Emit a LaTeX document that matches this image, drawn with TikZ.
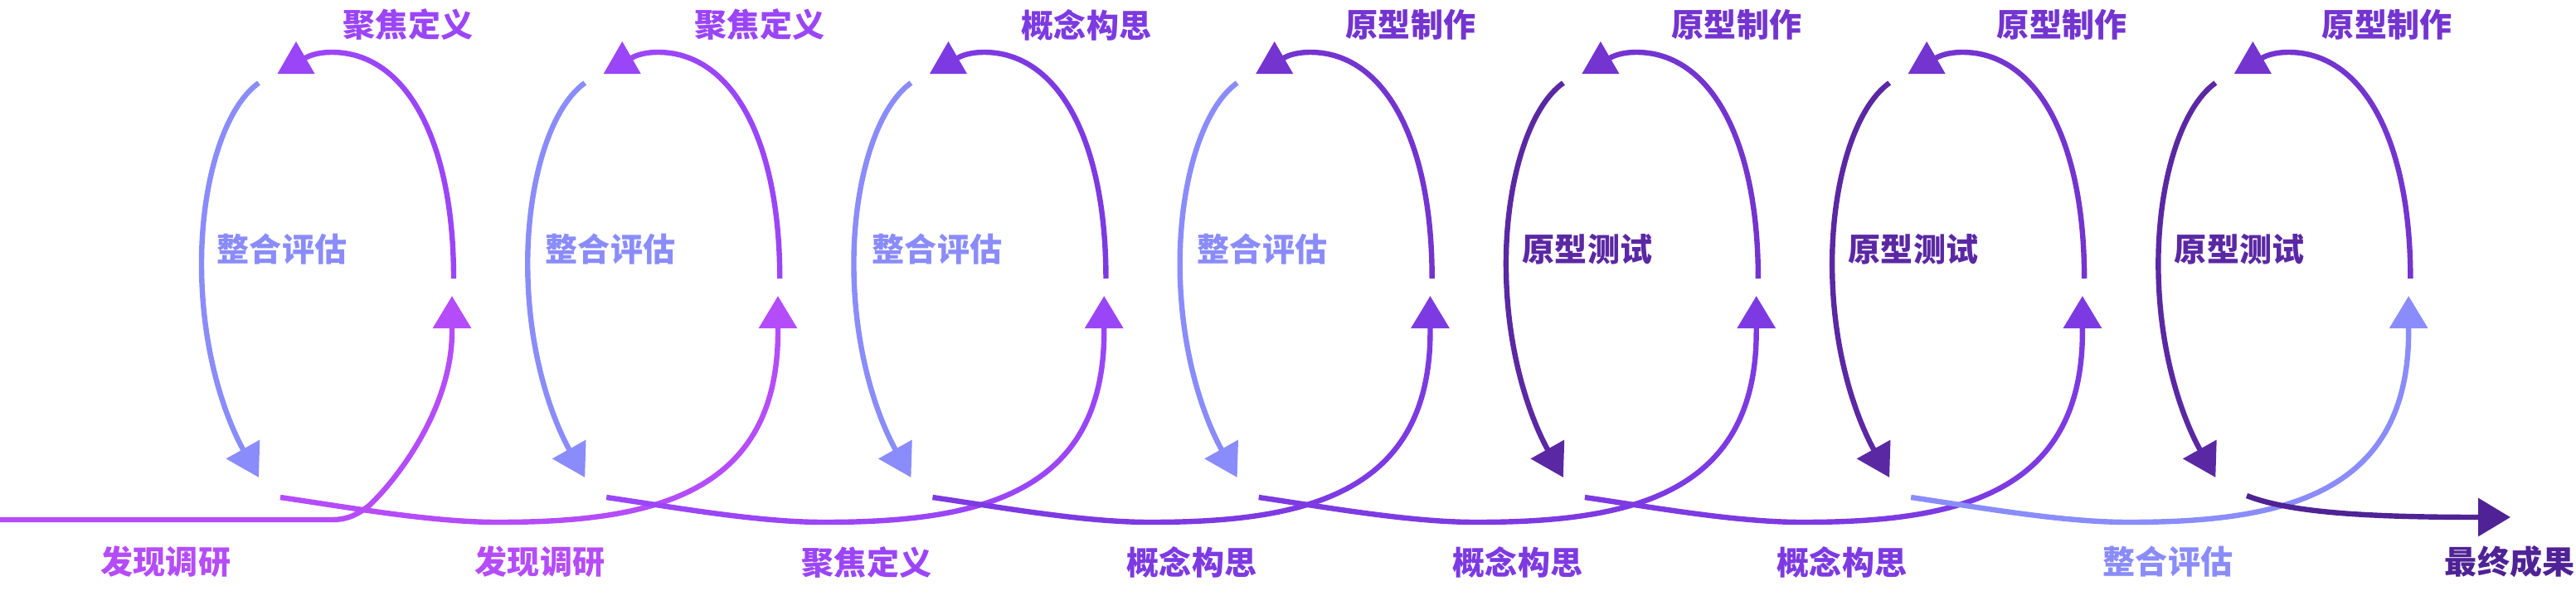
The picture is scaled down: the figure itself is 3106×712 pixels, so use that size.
\documentclass[tikz,border=0pt]{standalone}
\usepackage{fontspec}
\newfontfamily\cjk{Noto Sans CJK SC}
\usetikzlibrary{arrows.meta}
\definecolor{cBlue}{HTML}{8A8CFB}
\definecolor{cFocus}{HTML}{9B45F9}
\definecolor{cDisc}{HTML}{B54CFA}
\definecolor{cConc}{HTML}{7D3AE2}
\definecolor{cProto}{HTML}{7334D0}
\definecolor{cTest}{HTML}{5B28A4}
\definecolor{cFinal}{HTML}{4F2395}
\begin{document}
\begin{tikzpicture}[x=0.01cm,y=-0.01cm,
  flow/.style={line width=0.064cm, line cap=butt},
  tipped/.style={-{Triangle[length=0.39cm,width=0.45cm]}},
  lbl/.style={font=\cjk\bfseries\fontsize{11.1pt}{13pt}\selectfont, inner sep=0pt}]
\useasboundingbox (0,0) rectangle (3106,712);

% ---------- loops ----------
\foreach \i/\lc/\rc in {0/cBlue/cFocus,1/cBlue/cFocus,2/cBlue/cConc,3/cBlue/cProto,4/cTest/cProto,5/cTest/cProto,6/cTest/cProto}{
  \begin{scope}[xshift=3.93cm*\i]
    \coordinate (ls\i) at (312,100);
    \coordinate (lt\i) at (312,576);
    \coordinate (ts\i) at (547,336);
    \coordinate (te\i) at (368,70);
    \coordinate (tt\i) at (357,50);
    \draw[flow,tipped,draw=\lc] (ls\i) .. controls (270,130) and (243,220) .. (243,318)
          .. controls (243,430) and (275,510) .. (lt\i);
    \draw[flow,draw=\rc] (ts\i) .. controls (547,170) and (490,63) .. (400,63)
          .. controls (386,63) and (375,66) .. (te\i);
    \fill[\rc] (tt\i) -- ++(22.5,39) -- ++(-45,0) -- cycle;
  \end{scope}
}

% ---------- bottom flow ----------
\coordinate (b0s) at (0,627);
\coordinate (b0e) at (545,357);
\draw[flow,tipped,draw=cDisc] (b0s) -- (400,627) .. controls (420,627) and (432,620) .. (445,610)
      .. controls (482,575) and (545,490) .. (545,400) -- (b0e);

\foreach \k/\c in {1/cDisc,2/cFocus,3/cConc,4/cConc,5/cConc,6/cBlue}{
  \begin{scope}[xshift=3.93cm*(\k-1)]
    \coordinate (bs\k) at (338,600);
    \coordinate (be\k) at (938,357);
    \draw[flow,tipped,draw=\c] (bs\k) .. controls (420,612) and (520,630) .. (600,630)
          .. controls (780,630) and (938,600) .. (938,400) -- (be\k);
  \end{scope}
}

\coordinate (b7s) at (2709,598);
\coordinate (b7e) at (3027,624);
\draw[flow,tipped,draw=cFinal] (b7s) .. controls (2760,618) and (2850,624) .. (b7e);

% ---------- labels ----------
\node[lbl,text=cFocus] (t1) at (492,30) {聚焦定义};
\node[lbl,text=cFocus] (t2) at (916,30) {聚焦定义};
\node[lbl,text=cConc]  (t3) at (1310,30) {概念构思};
\node[lbl,text=cProto] (t4) at (1701,30) {原型制作};
\node[lbl,text=cProto] (t5) at (2094,30) {原型制作};
\node[lbl,text=cProto] (t6) at (2486,30) {原型制作};
\node[lbl,text=cProto] (t7) at (2878,30) {原型制作};

\node[lbl,text=cBlue] (m1) at (340,301) {整合评估};
\node[lbl,text=cBlue] (m2) at (736,301) {整合评估};
\node[lbl,text=cBlue] (m3) at (1130,301) {整合评估};
\node[lbl,text=cBlue] (m4) at (1522,301) {整合评估};
\node[lbl,text=cTest] (m5) at (1914,301) {原型测试};
\node[lbl,text=cTest] (m6) at (2307,301) {原型测试};
\node[lbl,text=cTest] (m7) at (2700,301) {原型测试};

\node[lbl,text=cDisc]  (u0) at (200,678) {发现调研};
\node[lbl,text=cDisc]  (u1) at (651,678) {发现调研};
\node[lbl,text=cFocus] (u2) at (1045,678) {聚焦定义};
\node[lbl,text=cConc]  (u3) at (1437,678) {概念构思};
\node[lbl,text=cConc]  (u4) at (1830,678) {概念构思};
\node[lbl,text=cConc]  (u5) at (2221,678) {概念构思};
\node[lbl,text=cBlue]  (u6) at (2614,678) {整合评估};
\node[lbl,text=cFinal] (u7) at (3026,678) {最终成果};
\end{tikzpicture}
\end{document}
